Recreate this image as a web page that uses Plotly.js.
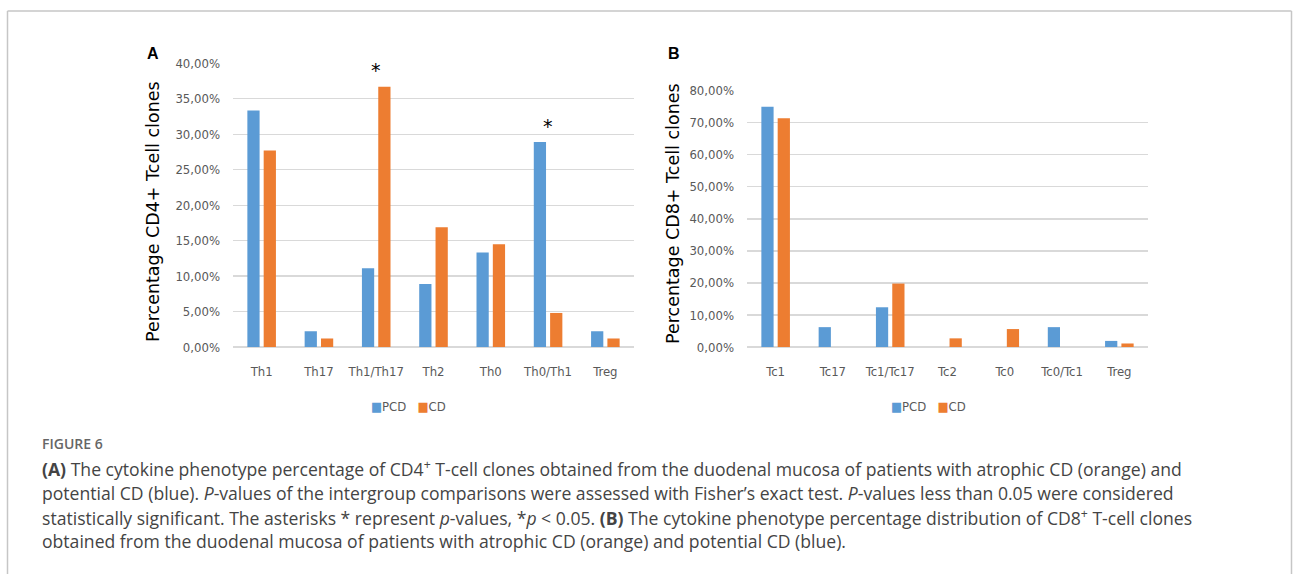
<!DOCTYPE html>
<html>
<head>
<meta charset="utf-8">
<script src="https://cdn.plot.ly/plotly-3.0.1.min.js"></script>
<style>
html,body{margin:0;padding:0;background:#fff;}
#chart{width:1293px;height:574px;}
</style>
</head>
<body>
<div id="chart"></div>
<script>
// ---- data ----
var catsA = ["Th1", "Th17", "Th1/Th17", "Th2", "Th0", "Th0/Th1", "Treg"];
var pcdA  = [33.33, 2.22, 11.11, 8.89, 13.33, 28.89, 2.22];
var cdA   = [27.7, 1.2, 36.7, 16.9, 14.5, 4.8, 1.2];

var catsB = ["Tc1", "Tc17", "Tc1/Tc17", "Tc2", "Tc0", "Tc0/Tc1", "Treg"];
var pcdB  = [75.0, 6.2, 12.4, null, null, 6.2, 1.9];
var cdB   = [71.4, null, 19.8, 2.7, 5.6, null, 1.1];

var seriesNames = ["PCD", "CD"];
var titleA = "Percentage CD4+ Tcell clones";
var titleB = "Percentage CD8+ Tcell clones";
var signifA = ["Th1/Th17", "Th0/Th1"];

// ---- styling ----
var W = 1293, H = 574;
var BLUE = "#5b9bd5", ORANGE = "#ed7d31";
var NARROW = "Liberation Sans Narrow, DejaVu Sans Condensed, Arial Narrow, sans-serif";
var GRID = "#d9d9d9";
function px(x){return x / W;}
function py(y){return 1 - y / H;}

var traces = [
  {type:"bar", x:catsA, y:pcdA, name:seriesNames[0], marker:{color:BLUE}, xaxis:"x", yaxis:"y", showlegend:false},
  {type:"bar", x:catsA, y:cdA,  name:seriesNames[1], marker:{color:ORANGE}, xaxis:"x", yaxis:"y", showlegend:false},
  {type:"bar", x:catsB, y:pcdB, name:seriesNames[0], marker:{color:BLUE}, xaxis:"x2", yaxis:"y2", showlegend:false},
  {type:"bar", x:catsB, y:cdB,  name:seriesNames[1], marker:{color:ORANGE}, xaxis:"x2", yaxis:"y2", showlegend:false}
];

var tickFont = {family:NARROW, size:13, color:"#595959"};

function xaxisDef(d0, d1, anchor){
  return {domain:[px(d0), px(d1)], anchor:anchor, type:"category", showgrid:false,
    showline:false, zeroline:false, ticks:"", tickfont:tickFont, ticklabelstandoff:15,
    fixedrange:true};
}
function yaxisDef(top, bottom, maxv, dt, anchor){
  return {domain:[py(bottom), py(top)], anchor:anchor, range:[0, maxv], dtick:dt,
    tickformat:".2f", ticksuffix:"%", showgrid:true, gridcolor:GRID, gridwidth:1.3,
    zeroline:true, zerolinecolor:GRID, zerolinewidth:1.3, showline:false, ticks:"",
    tickfont:tickFont, ticklabelstandoff:12, fixedrange:true};
}

var annotations = [];
// panel letters
annotations.push({text:"<b>A</b>", xref:"paper", yref:"paper", x:px(145), y:py(43), xanchor:"left", yanchor:"top", showarrow:false, font:{family:"Liberation Sans, Arial, sans-serif", size:16, color:"#000"}});
annotations.push({text:"<b>B</b>", xref:"paper", yref:"paper", x:px(666), y:py(43), xanchor:"left", yanchor:"top", showarrow:false, font:{family:"Liberation Sans, Arial, sans-serif", size:16, color:"#000"}});
// y titles
var yTitleFont = {family:"DejaVu Sans, Verdana, sans-serif", size:17.5, color:"#000"};
annotations.push({text:titleA, xref:"paper", yref:"paper", x:px(153), y:py(212), xanchor:"center", yanchor:"middle", textangle:-90, showarrow:false, font:yTitleFont});
annotations.push({text:titleB, xref:"paper", yref:"paper", x:px(673), y:py(214), xanchor:"center", yanchor:"middle", textangle:-90, showarrow:false, font:yTitleFont});
// significance asterisks
signifA.forEach(function(c){
  var i = catsA.indexOf(c);
  var top = Math.max(pcdA[i], cdA[i]);
  annotations.push({text:"*", xref:"x", yref:"y", x:c, y:top + 0.5, xanchor:"center", yanchor:"bottom", showarrow:false, font:{family:"DejaVu Sans, sans-serif", size:19, color:"#000"}});
});
// legends (compact Excel-style)
function legendText(){
  return '<span style="color:' + BLUE + '">\u25A0</span>' + seriesNames[0] +
         '   <span style="color:' + ORANGE + '">\u25A0</span>' + seriesNames[1];
}
annotations.push({text:legendText(), xref:"paper", yref:"paper", x:px(408), y:py(406), xanchor:"center", yanchor:"middle", showarrow:false, font:{family:NARROW, size:13, color:"#595959"}});
annotations.push({text:legendText(), xref:"paper", yref:"paper", x:px(928), y:py(406), xanchor:"center", yanchor:"middle", showarrow:false, font:{family:NARROW, size:13, color:"#595959"}});
// caption
var capFont = {family:"Open Sans, sans-serif", size:17.6, color:"#444"};
annotations.push({text:"FIGURE 6", xref:"paper", yref:"paper", x:px(40), y:py(443), xanchor:"left", yanchor:"middle", showarrow:false, font:{family:"Open Sans, sans-serif", size:14, color:"#666", weight:600}});
var capLines = [
  "<b>(A)</b> The cytokine phenotype percentage of CD4<sup>+</sup> T-cell clones obtained from the duodenal mucosa of patients with atrophic CD (orange) and",
  "potential CD (blue). <i>P</i>-values of the intergroup comparisons were assessed with Fisher\u2019s exact test. <i>P</i>-values less than 0.05 were considered",
  "statistically significant. The asterisks * represent <i>p</i>-values, *<i>p</i> &lt; 0.05. <b>(B)</b> The cytokine phenotype percentage distribution of CD8<sup>+</sup> T-cell clones",
  "obtained from the duodenal mucosa of patients with atrophic CD (orange) and potential CD (blue)."
];
var capY = [469, 493, 517, 541];
capLines.forEach(function(t, k){
  annotations.push({text:t, xref:"paper", yref:"paper", x:px(40), y:py(capY[k]), xanchor:"left", yanchor:"middle", showarrow:false, font:capFont});
});

var shapes = [
  {type:"line", xref:"paper", yref:"paper", x0:px(7.5), x1:px(7.5), y0:py(11), y1:-0.05, line:{color:"#c6c6c6", width:1.5}},
  {type:"line", xref:"paper", yref:"paper", x0:px(7.5), x1:px(1291.5), y0:py(11), y1:py(11), line:{color:"#c6c6c6", width:1.5}},
  {type:"line", xref:"paper", yref:"paper", x0:px(1291.5), x1:px(1291.5), y0:py(11), y1:-0.05, line:{color:"#c6c6c6", width:1.5}}
];

var layout = {
  width:W, height:H, margin:{l:0, r:0, t:0, b:0},
  paper_bgcolor:"#fff", plot_bgcolor:"#fff",
  separators:",.",
  barmode:"group", bargap:0.43, bargroupgap:0.25,
  showlegend:false,
  xaxis: xaxisDef(233, 634, "y"),
  yaxis: yaxisDef(63.3, 347, 40, 5, "x"),
  xaxis2: xaxisDef(747, 1148, "y2"),
  yaxis2: yaxisDef(90.7, 347, 80, 10, "x2"),
  annotations: annotations,
  shapes: shapes,
  hovermode:false
};

Plotly.newPlot("chart", traces, layout, {displayModeBar:false, staticPlot:true});
</script>
</body>
</html>
